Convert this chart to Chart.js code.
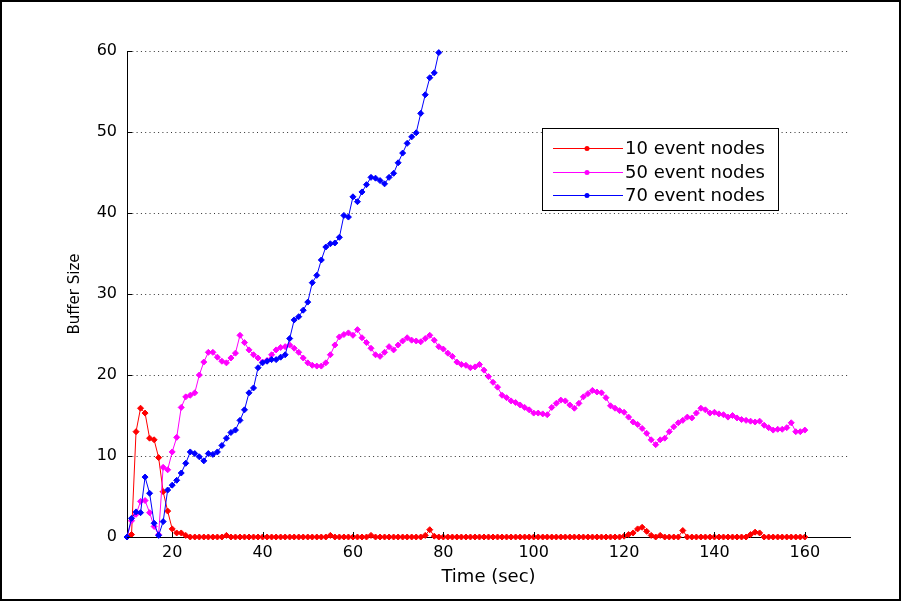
<!DOCTYPE html>
<html>
<head>
<meta charset="utf-8" />
<title>Buffer Size</title>
<script src="https://cdn.jsdelivr.net/npm/chart.js@4/dist/chart.umd.min.js"></script>
<style>
  body { margin: 0; background: #fff; }
  #buffer-chart { display: block; }
</style>
</head>
<body>
<canvas id="buffer-chart" width="901" height="601"></canvas>
<script>
// time stamps (sec), one sample per second
const timeSec = [
  10, 11, 12, 13, 14, 15, 16, 17, 18, 19,
  20, 21, 22, 23, 24, 25, 26, 27, 28, 29,
  30, 31, 32, 33, 34, 35, 36, 37, 38, 39,
  40, 41, 42, 43, 44, 45, 46, 47, 48, 49,
  50, 51, 52, 53, 54, 55, 56, 57, 58, 59,
  60, 61, 62, 63, 64, 65, 66, 67, 68, 69,
  70, 71, 72, 73, 74, 75, 76, 77, 78, 79,
  80, 81, 82, 83, 84, 85, 86, 87, 88, 89,
  90, 91, 92, 93, 94, 95, 96, 97, 98, 99,
  100, 101, 102, 103, 104, 105, 106, 107, 108, 109,
  110, 111, 112, 113, 114, 115, 116, 117, 118, 119,
  120, 121, 122, 123, 124, 125, 126, 127, 128, 129,
  130, 131, 132, 133, 134, 135, 136, 137, 138, 139,
  140, 141, 142, 143, 144, 145, 146, 147, 148, 149,
  150, 151, 152, 153, 154, 155, 156, 157, 158, 159,
  160,
];

const nodes10 = [
  0, 0.3, 13.0, 15.9, 15.3, 12.2, 12.0, 9.8, 5.6, 3.2,
  1.0, 0.5, 0.5, 0.2, 0, 0, 0, 0, 0, 0,
  0, 0, 0.2, 0, 0, 0, 0, 0, 0, 0,
  0, 0, 0, 0, 0, 0, 0, 0, 0, 0,
  0, 0, 0, 0, 0, 0.2, 0, 0, 0, 0,
  0, 0, 0, 0, 0.2, 0, 0, 0, 0, 0,
  0, 0, 0, 0, 0, 0, 0.2, 0.9, 0.1, 0,
  0, 0, 0, 0, 0, 0, 0, 0, 0, 0,
  0, 0, 0, 0, 0, 0, 0, 0, 0, 0,
  0, 0, 0, 0, 0, 0, 0, 0, 0, 0,
  0, 0, 0, 0, 0, 0, 0, 0, 0, 0,
  0.1, 0.3, 0.5, 1.0, 1.2, 0.7, 0.2, 0, 0.2, 0,
  0, 0, 0, 0.8, 0, 0, 0, 0, 0, 0,
  0, 0, 0, 0, 0, 0, 0, 0, 0.3, 0.6,
  0.5, 0, 0, 0, 0, 0, 0, 0, 0, 0,
  0,
];

const nodes50 = [
  0, 2.0, 2.8, 4.4, 4.5, 3.0, 1.3, 0.3, 8.6, 8.3,
  10.5, 12.3, 16.0, 17.3, 17.5, 17.8, 20.0, 21.6, 22.8, 22.8,
  22.2, 21.7, 21.5, 22.1, 22.7, 24.9, 24.0, 23.1, 22.5, 22.1,
  21.6, 21.8, 22.5, 23.1, 23.4, 23.5, 23.7, 23.3, 22.8, 22.1,
  21.5, 21.2, 21.1, 21.1, 21.5, 22.5, 23.7, 24.7, 25.0, 25.2,
  24.9, 25.6, 24.6, 24.0, 23.3, 22.5, 22.3, 22.8, 23.5, 23.1,
  23.7, 24.2, 24.6, 24.3, 24.2, 24.1, 24.5, 24.9, 24.3, 23.5,
  23.2, 22.7, 22.3, 21.6, 21.3, 21.2, 20.9, 21.0, 21.3, 20.6,
  19.8, 19.1, 18.5, 17.5, 17.2, 16.8, 16.6, 16.3, 16.0, 15.7,
  15.3, 15.3, 15.2, 15.1, 16.0, 16.5, 16.9, 16.8, 16.3, 15.9,
  16.5, 17.3, 17.7, 18.1, 17.9, 17.8, 17.2, 16.2, 15.9, 15.6,
  15.4, 14.8, 14.2, 13.9, 13.4, 12.8, 12.0, 11.4, 12.0, 12.2,
  13.0, 13.6, 14.1, 14.4, 14.8, 14.7, 15.3, 15.9, 15.7, 15.3,
  15.4, 15.2, 15.1, 14.8, 15.0, 14.7, 14.5, 14.4, 14.3, 14.2,
  14.3, 13.8, 13.5, 13.2, 13.3, 13.3, 13.5, 14.1, 13.0, 13.0,
  13.2,
];

// 70 nodes run stops at t = 79
const nodes70 = [
  0, 2.3, 3.1, 3.0, 7.4, 5.4, 1.7, 0.2, 1.9, 5.8,
  6.4, 7.0, 7.9, 9.1, 10.5, 10.3, 9.9, 9.4, 10.3, 10.2,
  10.5, 11.3, 12.2, 12.9, 13.2, 14.4, 15.7, 17.8, 18.4, 20.9,
  21.5, 21.7, 21.9, 21.9, 22.2, 22.5, 24.5, 26.8, 27.2, 28.0,
  29.0, 31.4, 32.3, 34.2, 35.8, 36.2, 36.3, 37.0, 39.7, 39.5,
  42.0, 41.4, 42.6, 43.5, 44.4, 44.3, 44.0, 43.6, 44.4, 44.9,
  46.2, 47.4, 48.6, 49.4, 49.9, 52.3, 54.6, 56.7, 57.3, 59.8,
];

const xTickValues = [20, 40, 60, 80, 100, 120, 140, 160];
const yTickValues = [0, 10, 20, 30, 40, 50, 60];

const seriesNames = ["10 event nodes", "50 event nodes", "70 event nodes"];
const seriesColors = ["#ff0000", "#ff00ff", "#0000ff"];

const FONT = "'DejaVu Sans', sans-serif";

document.addEventListener("DOMContentLoaded", () => {
  drawChart();
});

function toPoints(values) {
  return values.map((v, i) => ({ x: timeSec[i], y: v }));
}

function makeDataset(label, values, color, order) {
  return {
    label: label,
    data: toPoints(values),
    borderColor: color,
    backgroundColor: color,
    borderWidth: 1,
    pointStyle: "rectRot",
    pointRadius: 3,
    pointBorderWidth: 1,
    tension: 0,
    clip: false,
    order: order,
  };
}

// white page + black frame, MATLAB-like inward ticks, boxed legend
const figurePlugin = {
  id: "figure",
  beforeDraw(chart) {
    const ctx = chart.ctx;
    ctx.save();
    ctx.fillStyle = "#fff";
    ctx.fillRect(0, 0, chart.width, chart.height);
    ctx.restore();
  },
  afterDraw(chart) {
    const ctx = chart.ctx;
    const area = chart.chartArea;
    const xs = chart.scales.x;
    const ys = chart.scales.y;

    ctx.save();
    ctx.strokeStyle = "#000";
    ctx.lineWidth = 1;
    ctx.beginPath();
    yTickValues.forEach((v) => {
      const py = Math.round(ys.getPixelForValue(v)) + 0.5;
      ctx.moveTo(area.left, py);
      ctx.lineTo(area.left + 5, py);
    });
    xTickValues.forEach((v) => {
      const px = Math.round(xs.getPixelForValue(v)) + 0.5;
      ctx.moveTo(px, area.bottom);
      ctx.lineTo(px, area.bottom - 5);
    });
    ctx.stroke();

    // legend
    const box = { x: 542.5, y: 128.5, w: 236, h: 82 };
    ctx.fillStyle = "#fff";
    ctx.fillRect(box.x, box.y, box.w, box.h);
    ctx.strokeStyle = "#000";
    ctx.strokeRect(box.x, box.y, box.w, box.h);
    const rows = [148, 172, 195];
    ctx.font = "18px " + FONT;
    ctx.textBaseline = "middle";
    ctx.textAlign = "left";
    seriesNames.forEach((name, i) => {
      const y = rows[i] + 0.5;
      ctx.strokeStyle = seriesColors[i];
      ctx.beginPath();
      ctx.moveTo(553, y);
      ctx.lineTo(623, y);
      ctx.stroke();
      ctx.fillStyle = seriesColors[i];
      ctx.beginPath();
      ctx.arc(587, y, 2.5, 0, Math.PI * 2);
      ctx.fill();
      ctx.fillStyle = "#000";
      ctx.fillText(name, 625, y + 1);
    });

    // figure frame
    ctx.strokeStyle = "#000";
    ctx.lineWidth = 2;
    ctx.strokeRect(1, 1, chart.width - 2, chart.height - 2);
    ctx.restore();
  },
};

function drawChart() {
  const ctx = document.getElementById("buffer-chart").getContext("2d");
  new Chart(ctx, {
    type: "line",
    data: {
      datasets: [
        makeDataset(seriesNames[0], nodes10, seriesColors[0], 3),
        makeDataset(seriesNames[1], nodes50, seriesColors[1], 2),
        makeDataset(seriesNames[2], nodes70, seriesColors[2], 1),
      ],
    },
    options: {
      responsive: false,
      animation: false,
      devicePixelRatio: 1,
      events: [],
      layout: {
        padding: { left: 58, top: 51, right: 51, bottom: 0 },
      },
      plugins: {
        legend: { display: false },
        tooltip: { enabled: false },
      },
      scales: {
        x: {
          type: "linear",
          min: 10,
          max: 170,
          afterBuildTicks: (scale) => {
            scale.ticks = xTickValues.map((v) => ({ value: v }));
          },
          afterFit: (scale) => {
            scale.height = 64;
          },
          grid: { display: false, drawTicks: false },
          border: { display: true, color: "#000", width: 1 },
          ticks: {
            color: "#000",
            font: { family: FONT, size: 16 },
            padding: 6,
            maxRotation: 0,
            autoSkip: false,
          },
          title: {
            display: true,
            text: "Time (sec)",
            color: "#000",
            font: { family: FONT, size: 18 },
            padding: { top: 0, bottom: 13 },
          },
        },
        y: {
          min: 0,
          max: 60,
          afterBuildTicks: (scale) => {
            scale.ticks = yTickValues.map((v) => ({ value: v }));
          },
          afterFit: (scale) => {
            scale.width = 69;
          },
          grid: {
            drawTicks: false,
            color: (c) => (c.tick && c.tick.value === 0 ? "rgba(0,0,0,0)" : "#333"),
            lineWidth: 1,
          },
          border: { display: true, color: "#000", width: 1, dash: [1, 3.3] },
          ticks: {
            color: "#000",
            font: { family: FONT, size: 16 },
            padding: 10,
          },
          title: {
            display: true,
            text: "Buffer Size",
            color: "#000",
            font: { family: FONT, size: 15 },
            padding: { top: 8, bottom: 0 },
          },
        },
      },
    },
    plugins: [figurePlugin],
  });
}
</script>
</body>
</html>
